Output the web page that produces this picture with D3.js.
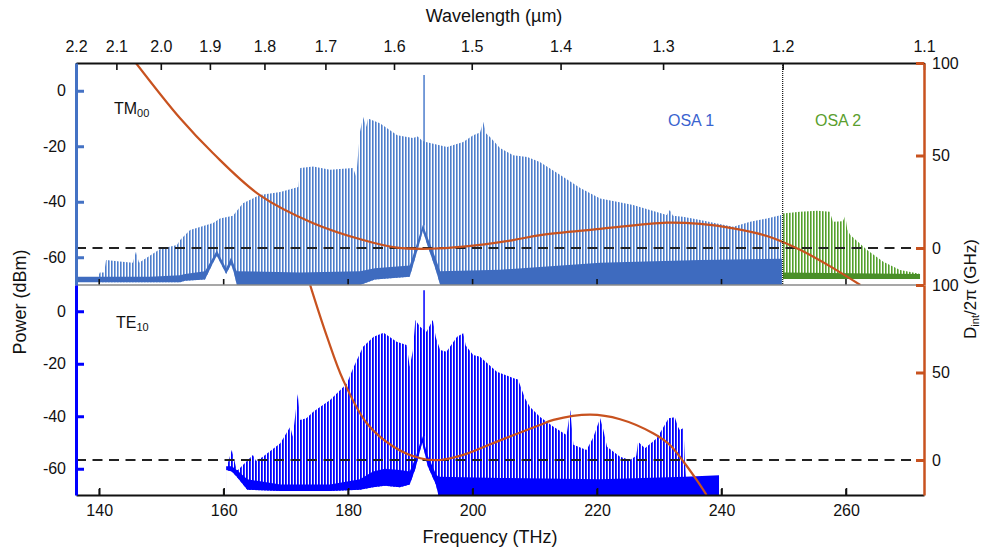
<!DOCTYPE html>
<html>
<head>
<meta charset="utf-8">
<title>Comb spectra TM00 / TE10</title>
<script src="https://cdn.jsdelivr.net/npm/d3@7/dist/d3.min.js"></script>
<style>
  body { margin: 0; background: #fff; }
  svg text { font-family: "Liberation Sans", Arial, sans-serif; fill: #111; }
</style>
</head>
<body>
<div id="chart"></div>
<script>
// ---- values ----
const freqTicks = [140, 160, 180, 200, 220, 240, 260];                                   // THz
const wavelengthTicks = [2.2, 2.1, 2.0, 1.9, 1.8, 1.7, 1.6, 1.5, 1.4, 1.3, 1.2, 1.1];      // um
const powerTicks = [0, -20, -40, -60];                                                     // dBm
const dintTicks = [100, 50, 0];                                                            // GHz
const osaSplit = 1.2;      // um, OSA 1 | OSA 2
const pumpFreq = 192.2;    // THz
const tmPump = [-48.5, 5.7];
const tePump = [-47.6, 8];

// TM00, OSA 1: comb peak envelope
const tmCombFreq = [139.8, 140.1, 140.8, 141.1, 143.3, 145.4, 145.9, 146.4, 149.8, 152.5, 153.0, 154.6, 158.3, 159.4,
  161.5, 163.1, 165.8, 169.1, 172.0, 172.3, 174.4, 177.1, 180.8, 181.3, 181.9, 182.4, 182.9, 183.2, 185.1, 187.9,
  190.4, 191.2, 191.9, 192.5, 195.9, 198.5, 200.1, 201.2, 201.7, 202.2, 202.8, 204.4, 206.5, 208.8, 210.8, 214.1,
  217.3, 220.5, 223.2, 225.8, 228.5, 231.2, 231.7, 232.2, 233.8, 236.6, 239.3, 241.9, 244.6, 247.3, 249.6];
const tmCombPower = [-67, -65.5, -65.5, -61, -61.5, -62, -58, -62, -57, -55.6, -53.8, -50.2, -47.7, -46,
  -45, -40.5, -37.6, -36.5, -34.7, -27.8, -27.3, -28.5, -27.8, -31, -14.9, -9.5, -13, -10, -11.7, -16,
  -17, -16.5, -18, -18.5, -20.3, -18.5, -16, -15, -11.3, -15.5, -16.7, -20.6, -23.2, -23.9, -25.7, -30.4,
  -35, -38.8, -40, -41.2, -43, -44.8, -43, -45, -45.4, -46.6, -47.8, -49, -47.2, -46, -44.8];
// TM00, OSA 1: noise floor band (upper / lower edge)
const tmFloorFreq = [136.3, 140.1, 148.2, 153.0, 153.8, 157.0, 158.3, 158.9, 159.7, 160.4, 161.2, 161.7, 162.1,
  172.3, 181.9, 184.3, 189.9, 191.2, 192.0, 192.8, 194.0, 194.8, 204.4, 220.5, 236.6, 249.7];
const tmFloorTop = [-67, -67, -67, -66.5, -66, -65, -60, -57.5, -61, -64, -60, -63, -65,
  -65.5, -65, -64, -63, -54, -48.4, -53, -60, -65, -64.5, -62, -61, -60.5];
const tmFloorBottom = [-69, -69, -69, -69, -68.5, -68, -62, -59.5, -63, -66, -62.5, -66, -70,
  -70, -70, -68, -67, -57, -50.5, -56, -64, -70, -70, -70, -70, -70];

// TM00, OSA 2
const osa2CombFreq = [249.9, 252.6, 255.4, 257.4, 257.9, 259.5, 259.9, 260.2, 260.7, 263.4, 266.0, 268.7, 271.4, 271.9];
const osa2CombPower = [-44.2, -43.6, -43.2, -43.6, -47.2, -47, -45, -50, -52, -57.4, -61.6, -64.6, -65.8, -66];
const osa2FloorFreq = [249.9, 260.7, 271.9];
const osa2FloorTop = [-65.5, -65.8, -66];
const osa2FloorBottom = [-67.8, -67.8, -67.8];

// TE10
const teCombFreq = [160.5, 161.3, 162.1, 162.3, 164.7, 165.2, 166.3, 169.1, 170.7, 171.1, 171.9, 172.3, 173.3, 174.4,
  177.1, 179.8, 180.8, 182.4, 184.1, 185.7, 187.8, 189.4, 189.9, 190.4, 190.8, 191.6, 192.6, 193.6, 194.1, 194.8,
  195.8, 197.5, 198.5, 198.9, 200.1, 201.2, 203.9, 206.6, 207.3, 208.4, 209.2, 210.8, 213.0, 215.1, 215.7, 216.2,
  218.3, 219.4, 220.0, 220.5, 221.0, 221.6, 223.7, 225.3, 226.3, 226.6, 227.7, 229.6, 230.7, 231.5, 232.5, 233.0,
  233.3, 233.9, 234.1, 234.3];
const teCombPower = [-59.2, -52.9, -60.5, -60.5, -54.8, -57, -55.4, -50.3, -44, -47.8, -31.5, -41.4, -40.8, -38.3,
  -33.8, -27.5, -21.7, -13.5, -9.7, -8.2, -11.6, -12.9, -21.1, -15, -3.3, -6, -7.8, -3.3, -10, -14.8,
  -15.4, -9.7, -8.4, -13, -16.7, -17.3, -23, -25.5, -26, -33, -36.4, -40.2, -44, -47.1, -37.6, -50.9,
  -52.9, -48, -44, -40.8, -45, -51.6, -55.4, -56.7, -55, -49.7, -52.2, -48.4, -44, -40.8, -40.4, -44,
  -45.2, -44.5, -56.7, -63];
const teFloorFreq = [160.4, 161.3, 162.1, 163.8, 169.1, 170.7, 177.1, 181.9, 184.0, 185.9, 188.3, 189.9, 190.8,
  191.9, 192.8, 194.1, 194.5, 194.8, 204.4, 220.5, 234.1, 239.6];
const teFloorTop = [-59, -59, -60.5, -64, -66, -66, -66, -64, -61, -60, -60.5, -61, -56,
  -47.6, -55, -62, -63, -63, -63.5, -64, -63, -62.5];
const teFloorBottom = [-60.5, -61, -63, -68, -68.5, -68.5, -68.5, -68, -67, -66.5, -67, -66, -60,
  -50, -59, -66, -70, -70, -70, -70, -70, -70];

// integrated dispersion D_int/2pi (GHz)
const tmDintFreq = [145.9, 153.0, 158.3, 165.8, 174.4, 182.4, 187.8, 193.2, 198.5, 206.5, 210.9, 220.5, 231.2,
  236.6, 241.9, 247.3, 252.7, 258.0, 262.3];
const tmDintVal = [100, 70.1, 51.2, 28.6, 13.4, 4.3, 0.2, -0.4, 0.7, 4.3, 7.0, 10.3, 13.7, 13.0, 10.6, 6.5, -1.1, -11, -20];
const teDintFreq = [173.9, 174.2, 176.6, 179.2, 183.0, 187.3, 191.6, 194.8, 198.5, 203.9, 210.8, 213.0, 218.9,
  223.7, 229.0, 231.7, 233.9, 236.0, 237.6];
const teDintVal = [100, 96.5, 70.5, 45.7, 21.0, 7.6, 1.0, 0, 2.9, 10.5, 20, 22.9, 25.9, 23.3, 15.3, 8.6, -1.0, -11.4, -20];

// ---- layout ----
var width = 984, height = 550;
var left = 76, right = 924, top1 = 63, mid = 285, bottom2 = 495;
var C = 299.792458; // um * THz
var orange = '#c8521f', blueTM = '#4472c4', blueTE = '#0000ff';

var svg = d3.select('#chart').append('svg')
    .attr('width', width)
    .attr('height', height);
var defs = svg.append('defs');

// scales
var x = d3.scaleLinear().domain([C / 2.2, C / 1.1]).range([left, right]);
var yPowTop = d3.scaleLinear().domain([-70, 10]).range([mid, top1]);
var yDintTop = d3.scaleLinear().domain([-20, 100]).range([mid, top1]);
var yPowBot = d3.scaleLinear().domain([-70, 10]).range([bottom2, mid]);
var yDintBot = d3.scaleLinear().domain([-20, 100]).range([bottom2, mid]);

function clip(id, y0, y1) {
    defs.append('clipPath').attr('id', id).append('rect')
        .attr('x', left).attr('y', y0).attr('width', right - left).attr('height', y1 - y0);
}
clip('clipTop', top1, mid);
clip('clipBot', mid, bottom2);

// vertical hatch = comb lines
function comb(id, color, w) {
    defs.append('pattern').attr('id', id)
        .attr('patternUnits', 'userSpaceOnUse')
        .attr('width', 3).attr('height', 6)
        .append('rect').attr('width', w).attr('height', 6).attr('fill', color);
}
comb('combTM', '#4d7dcc', 1.6);
comb('combOSA2', '#54a02c', 1.6);
comb('combTE', blueTE, 1.8);

var gTop = svg.append('g').attr('clip-path', 'url(#clipTop)');
var gBot = svg.append('g').attr('clip-path', 'url(#clipBot)');

function drawComb(g, yPow, f, p, floorF, fBot, pat) {
    var base = yPow(-70);
    g.append('path').datum(d3.zip(f, p))
        .attr('d', d3.area().x(d => x(d[0])).y0(base).y1(d => yPow(d[1])))
        .attr('fill', 'url(#' + pat + ')');
    // nothing below the floor trace
    g.append('path').datum(d3.zip(floorF, fBot))
        .attr('d', d3.area().x(d => x(d[0])).y0(base).y1(d => yPow(d[1])))
        .attr('fill', '#fff');
}

function drawFloor(g, yPow, floorF, fTop, fBot, color) {
    g.append('path').datum(d3.zip(floorF, fTop, fBot))
        .attr('d', d3.area().x(d => x(d[0])).y0(d => yPow(d[2])).y1(d => yPow(d[1])))
        .attr('fill', color);
}

function edgeTicks(g, y, color) {
    g.selectAll(null).data(freqTicks).enter().append('line')
        .attr('x1', d => x(d)).attr('x2', d => x(d))
        .attr('y1', y).attr('y2', y - 6)
        .attr('stroke', color).attr('stroke-width', 1.6);
}

// ---- top panel (TM00) ----
drawComb(gTop, yPowTop, tmCombFreq, tmCombPower, tmFloorFreq, tmFloorBottom, 'combTM');
drawComb(gTop, yPowTop, osa2CombFreq, osa2CombPower, osa2FloorFreq, osa2FloorBottom, 'combOSA2');
edgeTicks(svg, mid, '#111');
drawFloor(gTop, yPowTop, tmFloorFreq, tmFloorTop, tmFloorBottom, '#3e6bbf');
drawFloor(gTop, yPowTop, osa2FloorFreq, osa2FloorTop, osa2FloorBottom, '#4a8f28');
gTop.append('line')
    .attr('x1', x(pumpFreq)).attr('x2', x(pumpFreq))
    .attr('y1', yPowTop(tmPump[0])).attr('y2', yPowTop(tmPump[1]))
    .attr('stroke', '#4d7dcc').attr('stroke-width', 1.5);

// ---- bottom panel (TE10) ----
drawComb(gBot, yPowBot, teCombFreq, teCombPower, teFloorFreq, teFloorBottom, 'combTE');
edgeTicks(svg, bottom2, '#111');
drawFloor(gBot, yPowBot, teFloorFreq, teFloorTop, teFloorBottom, blueTE);
gBot.append('line')
    .attr('x1', x(pumpFreq)).attr('x2', x(pumpFreq))
    .attr('y1', yPowBot(tePump[0])).attr('y2', yPowBot(tePump[1]))
    .attr('stroke', blueTE).attr('stroke-width', 1.5);

// zero-dispersion dashed lines
[[gTop, yDintTop], [gBot, yDintBot]].forEach(([g, yD]) => {
    g.append('path').datum(x.domain())
        .attr('d', d3.line().x(d => x(d)).y(() => yD(0)))
        .attr('stroke', '#222').attr('stroke-width', 1.8)
        .attr('stroke-dasharray', '10,6.5').attr('fill', 'none');
});

// OSA boundary
svg.append('line')
    .attr('x1', x(C / osaSplit)).attr('x2', x(C / osaSplit))
    .attr('y1', top1).attr('y2', mid)
    .attr('stroke', '#111').attr('stroke-width', 1.2).attr('stroke-dasharray', '1,1');

// D_int curves
var dintLine = yD => d3.line().x(d => x(d[0])).y(d => yD(d[1])).curve(d3.curveCatmullRom);
gTop.append('path').datum(d3.zip(tmDintFreq, tmDintVal))
    .attr('d', dintLine(yDintTop)).attr('fill', 'none')
    .attr('stroke', orange).attr('stroke-width', 2.2);
gBot.append('path').datum(d3.zip(teDintFreq, teDintVal))
    .attr('d', dintLine(yDintBot)).attr('fill', 'none')
    .attr('stroke', orange).attr('stroke-width', 2.2);

// ---- axes ----
function styleAxis(g, color, domainW, tickW) {
    g.attr('font-family', '"Liberation Sans", Arial, sans-serif').attr('font-size', 16);
    g.select('.domain').attr('stroke', color).attr('stroke-width', domainW);
    g.selectAll('.tick line').attr('stroke', color).attr('stroke-width', tickW);
    g.selectAll('.tick text').attr('fill', '#111');
}
var plain = d => String(d); // hyphen minus, as in the figure

svg.append('line').attr('x1', left).attr('x2', right).attr('y1', mid).attr('y2', mid)
    .attr('stroke', '#8a8a8a').attr('stroke-width', 1.5);

var axTop = svg.append('g').attr('transform', 'translate(0,' + top1 + ')')
    .call(d3.axisTop(x)
        .tickValues(wavelengthTicks.map(l => C / l))
        .tickFormat((d, i) => wavelengthTicks[i].toFixed(1))
        .tickSizeInner(-7).tickSizeOuter(0).tickPadding(11));
styleAxis(axTop, '#111', 2, 1.6);

var axBottom = svg.append('g').attr('transform', 'translate(0,' + bottom2 + ')')
    .call(d3.axisBottom(x).tickValues(freqTicks).tickFormat(plain)
        .tickSizeInner(-7).tickSizeOuter(0).tickPadding(10));
styleAxis(axBottom, '#111', 2, 1.6);

var axL1 = svg.append('g').attr('transform', 'translate(' + left + ',0)')
    .call(d3.axisLeft(yPowTop).tickValues(powerTicks).tickFormat(plain)
        .tickSizeInner(-8).tickSizeOuter(0).tickPadding(10));
styleAxis(axL1, blueTM, 3, 3);
var axL2 = svg.append('g').attr('transform', 'translate(' + left + ',0)')
    .call(d3.axisLeft(yPowBot).tickValues(powerTicks).tickFormat(plain)
        .tickSizeInner(-8).tickSizeOuter(0).tickPadding(10));
styleAxis(axL2, blueTE, 3, 3);

var axR1 = svg.append('g').attr('transform', 'translate(' + right + ',0)')
    .call(d3.axisRight(yDintTop).tickValues(dintTicks).tickFormat(plain)
        .tickSizeInner(-8).tickSizeOuter(0).tickPadding(8));
styleAxis(axR1, orange, 2.5, 3);
var axR2 = svg.append('g').attr('transform', 'translate(' + right + ',0)')
    .call(d3.axisRight(yDintBot).tickValues(dintTicks).tickFormat(plain)
        .tickSizeInner(-8).tickSizeOuter(0).tickPadding(8));
styleAxis(axR2, orange, 2.5, 3);

// ---- titles & annotations ----
svg.append('text').attr('x', 494).attr('y', 22).attr('text-anchor', 'middle')
    .attr('font-size', 18).text('Wavelength (µm)');
svg.append('text').attr('x', 490).attr('y', 543).attr('text-anchor', 'middle')
    .attr('font-size', 18).text('Frequency (THz)');
svg.append('text').attr('transform', 'translate(26,302) rotate(-90)')
    .attr('text-anchor', 'middle').attr('font-size', 18).text('Power (dBm)');

var dLab = svg.append('text').attr('transform', 'translate(976,289) rotate(-90)')
    .attr('text-anchor', 'middle').attr('font-size', 17);
dLab.append('tspan').text('D');
dLab.append('tspan').attr('font-size', 11).attr('dy', 3).text('int');
dLab.append('tspan').attr('dy', -3).text('/2π (GHz)');

function modeLabel(xp, yp, main, sub) {
    var t = svg.append('text').attr('x', xp).attr('y', yp).attr('font-size', 16);
    t.append('tspan').text(main);
    t.append('tspan').attr('font-size', 11).attr('dy', 3).text(sub);
}
modeLabel(114, 114, 'TM', '00');
modeLabel(116, 328, 'TE', '10');

svg.append('text').attr('x', 668).attr('y', 126).attr('font-size', 16)
    .style('fill', '#3a63cf').text('OSA 1');
svg.append('text').attr('x', 815).attr('y', 126).attr('font-size', 16)
    .style('fill', '#5a9e2e').text('OSA 2');
</script>
</body>
</html>
